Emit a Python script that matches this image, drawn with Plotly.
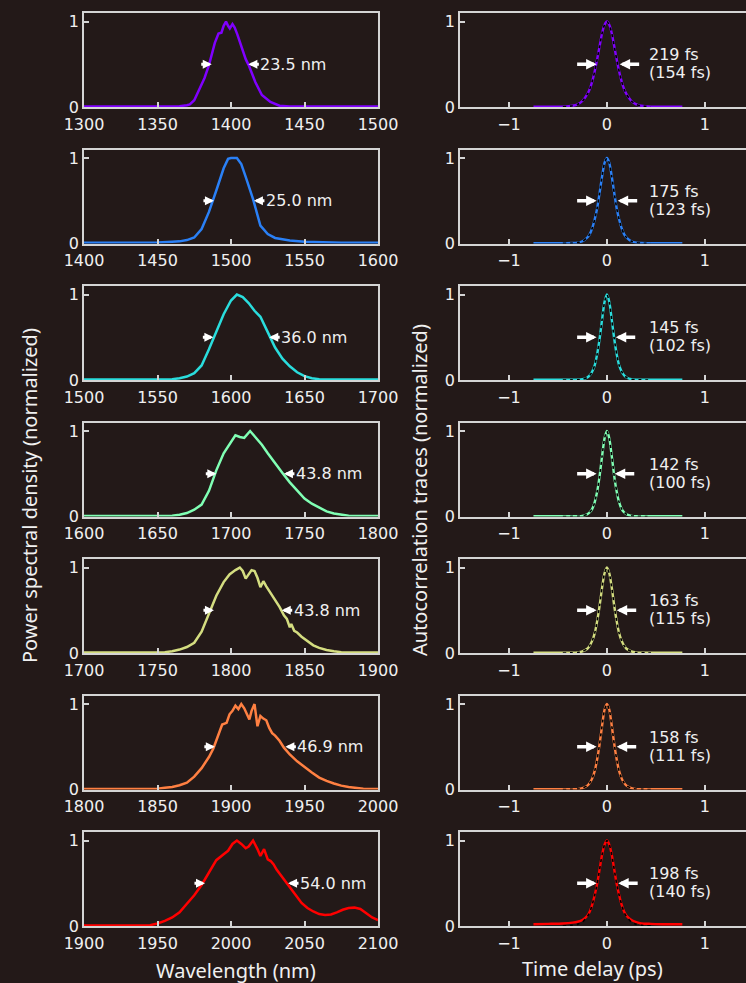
import plotly.graph_objects as go

# ---------------- data ----------------
wl1 = [1300, 1330, 1360, 1365, 1370, 1372, 1375, 1379, 1382, 1385, 1389, 1391.5, 1393.5, 1395, 1396.6, 1398,
       1399.2, 1401, 1402.5, 1404.3, 1407.7, 1410, 1412, 1416.6, 1421, 1426.8, 1433, 1440, 1470, 1500]
ps1 = [0.005, 0.005, 0.006, 0.01, 0.02, 0.03, 0.08, 0.22, 0.34, 0.49, 0.75, 0.86, 0.87, 0.95, 1.0, 0.95,
       0.92, 0.97, 0.93, 0.85, 0.67, 0.56, 0.49, 0.29, 0.14, 0.06, 0.015, 0.006, 0.005, 0.005]

wl2 = [1400, 1430, 1450, 1460, 1465, 1470, 1475, 1480, 1485, 1490, 1495, 1498, 1500, 1504, 1507, 1510,
       1515, 1520, 1525, 1530, 1535, 1540, 1550, 1560, 1575, 1600]
ps2 = [0.01, 0.01, 0.012, 0.02, 0.025, 0.04, 0.07, 0.17, 0.37, 0.62, 0.88, 0.99, 1.0, 1.0, 0.93, 0.78,
       0.52, 0.21, 0.11, 0.065, 0.05, 0.035, 0.02, 0.015, 0.01, 0.01]

wl3 = [1500, 1530, 1555, 1560, 1565, 1570, 1575, 1580, 1585, 1590, 1595, 1600, 1604, 1608, 1612, 1616,
       1620, 1625, 1630, 1635, 1640, 1645, 1650, 1655, 1660, 1670, 1700]
ps3 = [0.005, 0.005, 0.006, 0.01, 0.02, 0.04, 0.08, 0.17, 0.36, 0.57, 0.77, 0.93, 1.0, 0.97, 0.90, 0.81,
       0.74, 0.56, 0.38, 0.25, 0.16, 0.09, 0.045, 0.02, 0.01, 0.006, 0.005]

wl4 = [1600, 1630, 1655, 1660, 1665, 1670, 1675, 1680, 1685, 1690, 1695, 1700, 1703, 1706, 1709, 1713,
       1717, 1721, 1725, 1730, 1735, 1740, 1745, 1750, 1755, 1760, 1765, 1770, 1775, 1780, 1790, 1800]
ps4 = [0.005, 0.005, 0.006, 0.01, 0.02, 0.04, 0.08, 0.14, 0.30, 0.54, 0.74, 0.88, 0.95, 0.93, 0.92, 1.0,
       0.92, 0.84, 0.74, 0.62, 0.51, 0.40, 0.30, 0.21, 0.15, 0.10, 0.06, 0.035, 0.02, 0.01, 0.006, 0.005]

wl5 = [1700, 1730, 1750, 1755, 1760, 1765, 1770, 1775, 1780, 1785, 1790, 1795, 1799, 1803, 1806, 1808,
       1810, 1812, 1814, 1816, 1818, 1820, 1822, 1824, 1827, 1830, 1833, 1836, 1838, 1840, 1841, 1843,
       1845, 1848, 1852, 1856, 1860, 1865, 1870, 1875, 1885, 1900]
ps5 = [0.005, 0.005, 0.006, 0.01, 0.02, 0.04, 0.07, 0.12, 0.25, 0.45, 0.67, 0.83, 0.92, 0.97, 1.0, 0.96,
       0.87, 0.92, 0.97, 0.96, 0.88, 0.77, 0.84, 0.78, 0.70, 0.62, 0.54, 0.44, 0.40, 0.30, 0.34, 0.26,
       0.24, 0.19, 0.14, 0.09, 0.06, 0.035, 0.02, 0.01, 0.006, 0.005]

wl6 = [1800, 1830, 1845, 1850, 1855, 1860, 1865, 1870, 1875, 1880, 1885, 1888, 1891, 1894, 1897, 1899,
       1901, 1903, 1905, 1907, 1909, 1911, 1912.5, 1914, 1916, 1918, 1920, 1922, 1924, 1926, 1928, 1930,
       1933, 1936, 1940, 1945, 1950, 1955, 1960, 1965, 1970, 1975, 1980, 1985, 1990, 2000]
ps6 = [0.005, 0.005, 0.006, 0.01, 0.02, 0.03, 0.05, 0.08, 0.15, 0.25, 0.38, 0.48, 0.62, 0.76, 0.78, 0.88,
       0.92, 0.98, 0.94, 1.0, 0.95, 0.88, 0.82, 0.92, 1.0, 0.74, 0.86, 0.83, 0.81, 0.72, 0.66, 0.63,
       0.57, 0.49, 0.41, 0.33, 0.26, 0.20, 0.14, 0.10, 0.07, 0.045, 0.03, 0.02, 0.01, 0.005]

wl7 = [1900, 1920, 1940, 1945, 1950, 1955, 1960, 1965, 1970, 1975, 1980, 1985, 1990, 1995, 1998, 2001,
       2004, 2007, 2010, 2012, 2015, 2018, 2020, 2022.5, 2025, 2027, 2029, 2031, 2035, 2038, 2042, 2045,
       2048, 2052, 2056, 2060, 2064, 2068, 2072, 2076, 2080, 2084, 2088, 2092, 2096, 2100]
ps7 = [0.005, 0.005, 0.006, 0.01, 0.03, 0.06, 0.10, 0.16, 0.26, 0.36, 0.48, 0.63, 0.77, 0.84, 0.88, 0.96,
       1.0, 0.96, 0.91, 0.93, 1.0, 0.90, 0.82, 0.90, 0.78, 0.76, 0.72, 0.66, 0.57, 0.51, 0.41, 0.34,
       0.27, 0.21, 0.17, 0.14, 0.13, 0.135, 0.16, 0.19, 0.21, 0.215, 0.20, 0.15, 0.10, 0.07]

wl_ranges = [1300, 1400, 1500, 1600, 1700, 1800, 1900]
spec_fwhm = ["23.5 nm", "25.0 nm", "36.0 nm", "43.8 nm", "43.8 nm", "46.9 nm", "54.0 nm"]
spec_edges = [(1386.9, 1411.8), (1488.4, 1515.6), (1588, 1626), (1690, 1736),
              (1788.4, 1834.5), (1889, 1937), (1982.3, 2038.8)]

# autocorrelation delay grid (ps)
tau = [-0.75, -0.6, -0.45, -0.35, -0.3, -0.25, -0.2, -0.175, -0.15, -0.125, -0.1, -0.075, -0.05, -0.025, 0,
       0.025, 0.05, 0.075, 0.1, 0.125, 0.15, 0.175, 0.2, 0.25, 0.3, 0.35, 0.45, 0.6, 0.77]
ac1 = [0.003, 0.003, 0.004, 0.014, 0.03, 0.07, 0.15, 0.21, 0.30, 0.415, 0.555, 0.71, 0.86, 0.96, 1.0,
       0.96, 0.86, 0.71, 0.555, 0.415, 0.30, 0.21, 0.15, 0.07, 0.03, 0.014, 0.004, 0.003, 0.003]
ac2 = [0.003, 0.003, 0.003, 0.005, 0.01, 0.026, 0.07, 0.11, 0.18, 0.28, 0.41, 0.59, 0.78, 0.94, 1.0,
       0.94, 0.78, 0.59, 0.41, 0.28, 0.18, 0.11, 0.07, 0.026, 0.01, 0.005, 0.003, 0.003, 0.003]
ac3 = [0.004, 0.003, 0.003, 0.003, 0.004, 0.009, 0.03, 0.055, 0.10, 0.17, 0.30, 0.48, 0.70, 0.91, 1.0,
       0.91, 0.70, 0.48, 0.30, 0.17, 0.10, 0.055, 0.03, 0.009, 0.004, 0.003, 0.003, 0.003, 0.004]
ac4 = [0.004, 0.003, 0.003, 0.003, 0.003, 0.008, 0.027, 0.05, 0.09, 0.165, 0.29, 0.47, 0.70, 0.91, 1.0,
       0.91, 0.70, 0.47, 0.29, 0.165, 0.09, 0.05, 0.027, 0.008, 0.003, 0.003, 0.003, 0.003, 0.004]
ac5 = [0.004, 0.003, 0.003, 0.003, 0.006, 0.018, 0.05, 0.087, 0.145, 0.23, 0.37, 0.55, 0.76, 0.93, 1.0,
       0.93, 0.76, 0.55, 0.37, 0.23, 0.145, 0.087, 0.05, 0.018, 0.006, 0.003, 0.003, 0.003, 0.004]
ac6 = [0.004, 0.003, 0.003, 0.003, 0.005, 0.015, 0.045, 0.077, 0.13, 0.215, 0.35, 0.53, 0.74, 0.93, 1.0,
       0.93, 0.74, 0.53, 0.35, 0.215, 0.13, 0.077, 0.045, 0.015, 0.005, 0.003, 0.003, 0.003, 0.004]
ac7 = [0.02, 0.025, 0.03, 0.04, 0.05, 0.07, 0.12, 0.17, 0.25, 0.36, 0.49, 0.66, 0.83, 0.95, 1.0,
       0.95, 0.83, 0.66, 0.49, 0.36, 0.25, 0.17, 0.12, 0.07, 0.045, 0.03, 0.025, 0.02, 0.02]

tau_fit = [-0.45, -0.35, -0.3, -0.25, -0.2, -0.175, -0.15, -0.125, -0.1, -0.075, -0.05, -0.025, 0,
           0.025, 0.05, 0.075, 0.1, 0.125, 0.15, 0.175, 0.2, 0.25, 0.3, 0.35, 0.45]
fit1 = [0.003, 0.014, 0.03, 0.07, 0.148, 0.21, 0.30, 0.415, 0.555, 0.71, 0.86, 0.96, 1.0,
        0.96, 0.86, 0.71, 0.555, 0.415, 0.30, 0.21, 0.148, 0.07, 0.03, 0.014, 0.003]
fit2 = [0.001, 0.004, 0.01, 0.026, 0.07, 0.11, 0.18, 0.28, 0.41, 0.59, 0.78, 0.94, 1.0,
        0.94, 0.78, 0.59, 0.41, 0.28, 0.18, 0.11, 0.07, 0.026, 0.01, 0.004, 0.001]
fit3 = [0.0, 0.001, 0.003, 0.009, 0.03, 0.055, 0.10, 0.17, 0.30, 0.48, 0.70, 0.91, 1.0,
        0.91, 0.70, 0.48, 0.30, 0.17, 0.10, 0.055, 0.03, 0.009, 0.003, 0.001, 0.0]
fit4 = [0.0, 0.001, 0.002, 0.008, 0.027, 0.05, 0.09, 0.165, 0.29, 0.47, 0.70, 0.91, 1.0,
        0.91, 0.70, 0.47, 0.29, 0.165, 0.09, 0.05, 0.027, 0.008, 0.002, 0.001, 0.0]
fit5 = [0.0, 0.002, 0.006, 0.018, 0.05, 0.087, 0.145, 0.23, 0.37, 0.55, 0.76, 0.93, 1.0,
        0.93, 0.76, 0.55, 0.37, 0.23, 0.145, 0.087, 0.05, 0.018, 0.006, 0.002, 0.0]
fit6 = [0.0, 0.002, 0.005, 0.015, 0.045, 0.077, 0.13, 0.215, 0.35, 0.53, 0.74, 0.93, 1.0,
        0.93, 0.74, 0.53, 0.35, 0.215, 0.13, 0.077, 0.045, 0.015, 0.005, 0.002, 0.0]
fit7 = [0.001, 0.008, 0.019, 0.046, 0.11, 0.16, 0.25, 0.36, 0.49, 0.66, 0.83, 0.95, 1.0,
        0.95, 0.83, 0.66, 0.49, 0.36, 0.25, 0.16, 0.11, 0.046, 0.019, 0.008, 0.001]

ac_fwhm = ["219 fs", "175 fs", "145 fs", "142 fs", "163 fs", "158 fs", "198 fs"]
ac_pulse = ["(154 fs)", "(123 fs)", "(102 fs)", "(100 fs)", "(115 fs)", "(111 fs)", "(140 fs)"]
ac_edges = [(-0.105, 0.13), (-0.105, 0.11), (-0.105, 0.09), (-0.105, 0.08),
            (-0.105, 0.10), (-0.105, 0.10), (-0.105, 0.115)]

spectra = [(wl1, ps1), (wl2, ps2), (wl3, ps3), (wl4, ps4), (wl5, ps5), (wl6, ps6), (wl7, ps7)]
acs = [ac1, ac2, ac3, ac4, ac5, ac6, ac7]
fits = [fit1, fit2, fit3, fit4, fit5, fit6, fit7]

colors = ["#8000ff", "#2a80f6", "#2adddd", "#80ffb4", "#d4dd80", "#ff8042", "#ff0000"]

# ---------------- styling ----------------
W, H = 746, 983
BG = "#231918"
AX = "#d4d4d4"
TXT = "#f0f0f0"
TICKFONT = dict(family="DejaVu Sans", size=16, color=TXT)
LABFONT = dict(family="DejaVu Sans", size=16, color=TXT)
TITLEFONT = dict(family="Noto Sans", size=20, color=TXT)

left_dom = [84 / W, 378 / W]
right_dom = [460 / W, 1.0]

fig = go.Figure()
layout = dict(
    width=W, height=H, paper_bgcolor=BG, plot_bgcolor=BG, showlegend=False,
    margin=dict(l=0, r=0, t=0, b=0),
)
annotations = []

common = dict(showline=True, linecolor=AX, linewidth=1.5, ticks="inside", ticklen=5, tickwidth=1.5,
              tickcolor=AX, showgrid=False, zeroline=False, tickfont=TICKFONT, fixedrange=True,
              automargin=False)

for r in range(7):
    top = 13 + 136.5 * r
    bot = top + 94
    ydom = [1 - bot / H, 1 - top / H]
    nL = 2 * r + 1
    nR = 2 * r + 2
    lo = wl_ranges[r]
    # left spectrum axes
    layout[f"xaxis{nL}"] = dict(common, domain=left_dom, anchor=f"y{nL}", range=[lo, lo + 200],
                                tickvals=[lo + 50 * k for k in range(5)], mirror=True,
                                ticklabelstandoff=2)
    layout[f"yaxis{nL}"] = dict(common, domain=ydom, anchor=f"x{nL}", range=[0, 1.1],
                                tickvals=[0, 1], mirror=True)
    # right autocorrelation axes
    layout[f"xaxis{nR}"] = dict(common, domain=right_dom, anchor=f"y{nR}", range=[-1.5, 1.42],
                                tickvals=[-1, 0, 1], mirror=True, ticklabelstandoff=2)
    layout[f"yaxis{nR}"] = dict(common, domain=ydom, anchor=f"x{nR}", range=[0, 1.1],
                                tickvals=[0, 1], mirror=False)

    wl, ps = spectra[r]
    fig.add_trace(go.Scatter(x=wl, y=ps, mode="lines", line=dict(color=colors[r], width=2.5),
                             xaxis=f"x{nL}", yaxis=f"y{nL}", hoverinfo="skip"))
    fig.add_trace(go.Scatter(x=tau, y=acs[r], mode="lines",
                             line=dict(color=colors[r], width=2.4, shape="spline", smoothing=0.6),
                             xaxis=f"x{nR}", yaxis=f"y{nR}", hoverinfo="skip"))
    fig.add_trace(go.Scatter(x=tau_fit, y=fits[r], mode="lines",
                             line=dict(color="#000000", width=1.6, dash="3px,4px", shape="spline",
                                       smoothing=0.6),
                             xaxis=f"x{nR}", yaxis=f"y{nR}", hoverinfo="skip"))

    # spectral FWHM arrows + label
    le, re_ = spec_edges[r]
    for tip, off in ((le, -12), (re_, 12)):
        annotations.append(dict(x=tip, y=0.5, xref=f"x{nL}", yref=f"y{nL}", ax=off, ay=0,
                                showarrow=True, arrowhead=2, arrowsize=0.6, arrowwidth=3,
                                arrowcolor="white", text=""))
    annotations.append(dict(x=re_, y=0.5, xref=f"x{nL}", yref=f"y{nL}", xshift=10, xanchor="left",
                            yanchor="middle", text=spec_fwhm[r], showarrow=False, font=LABFONT))

    # autocorrelation FWHM arrows + labels
    la, ra = ac_edges[r]
    for tip, off in ((la, -21), (ra, 21)):
        annotations.append(dict(x=tip, y=0.5, xref=f"x{nR}", yref=f"y{nR}", ax=off, ay=0,
                                showarrow=True, arrowhead=2, arrowsize=0.6, arrowwidth=3.5,
                                arrowcolor="white", text=""))
    annotations.append(dict(x=0.41, y=0.61, xref=f"x{nR}", yref=f"y{nR}", xanchor="left",
                            yanchor="middle", text=ac_fwhm[r], showarrow=False, font=LABFONT))
    annotations.append(dict(x=0.41, y=0.40, xref=f"x{nR}", yref=f"y{nR}", xanchor="left",
                            yanchor="middle", text=ac_pulse[r], showarrow=False, font=LABFONT))

# axis titles
annotations.append(dict(x=30 / W, y=1 - 496 / H, xref="paper", yref="paper", textangle=-90,
                        text="Power spectral density (normalized)", showarrow=False, font=TITLEFONT,
                        xanchor="center", yanchor="middle"))
annotations.append(dict(x=419 / W, y=1 - 490 / H, xref="paper", yref="paper", textangle=-90,
                        text="Autocorrelation traces (normalized)", showarrow=False, font=TITLEFONT,
                        xanchor="center", yanchor="middle"))
annotations.append(dict(x=236 / W, y=1 - 970 / H, xref="paper", yref="paper",
                        text="Wavelength (nm)", showarrow=False, font=TITLEFONT,
                        xanchor="center", yanchor="middle"))
annotations.append(dict(x=592 / W, y=1 - 968 / H, xref="paper", yref="paper",
                        text="Time delay (ps)", showarrow=False, font=TITLEFONT,
                        xanchor="center", yanchor="middle"))

layout["annotations"] = annotations
fig.update_layout(**layout)
fig.write_html(
    "out.html",
    config={"displayModeBar": False},
    post_script="document.body.style.margin='0';document.body.style.padding='0';"
                "document.body.style.overflow='hidden';document.body.style.background='#231918';",
)
